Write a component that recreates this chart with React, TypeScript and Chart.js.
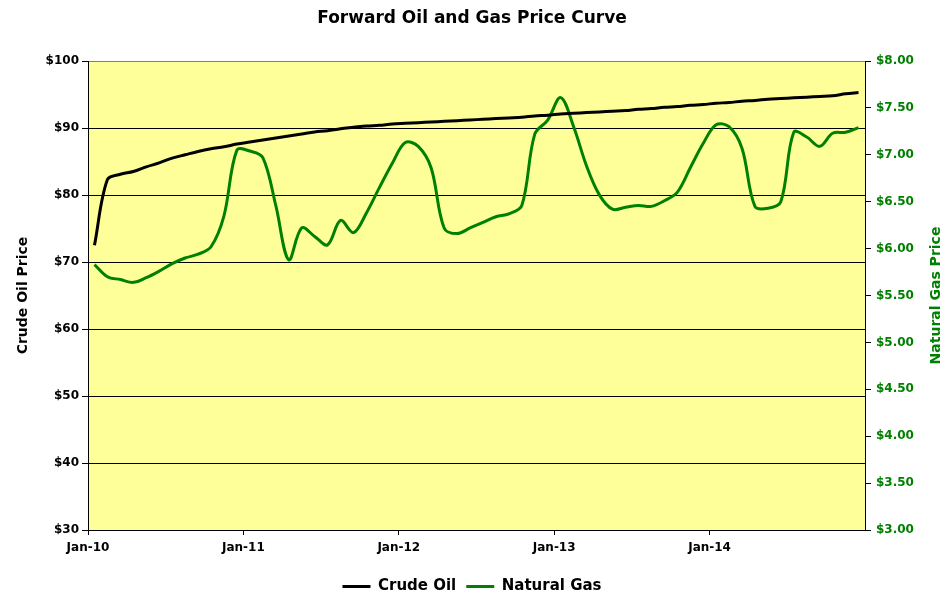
import React, { useEffect, useRef } from "react";
import { Chart, registerables } from "chart.js";

Chart.register(...registerables);

const categories = [
  "Jan-10", "Feb-10", "Mar-10", "Apr-10", "May-10", "Jun-10", "Jul-10", "Aug-10", "Sep-10", "Oct-10", "Nov-10", "Dec-10",
  "Jan-11", "Feb-11", "Mar-11", "Apr-11", "May-11", "Jun-11", "Jul-11", "Aug-11", "Sep-11", "Oct-11", "Nov-11", "Dec-11",
  "Jan-12", "Feb-12", "Mar-12", "Apr-12", "May-12", "Jun-12", "Jul-12", "Aug-12", "Sep-12", "Oct-12", "Nov-12", "Dec-12",
  "Jan-13", "Feb-13", "Mar-13", "Apr-13", "May-13", "Jun-13", "Jul-13", "Aug-13", "Sep-13", "Oct-13", "Nov-13", "Dec-13",
  "Jan-14", "Feb-14", "Mar-14", "Apr-14", "May-14", "Jun-14", "Jul-14", "Aug-14", "Sep-14", "Oct-14", "Nov-14", "Dec-14",
];

const crudeOil = [
  72.5, 82.3, 83.1, 83.5, 84.2, 84.8, 85.5, 86.0, 86.5, 86.9, 87.2, 87.6,
  87.9, 88.2, 88.5, 88.8, 89.1, 89.4, 89.6, 89.9, 90.1, 90.3, 90.4, 90.6,
  90.7, 90.8, 90.9, 91.0, 91.1, 91.2, 91.3, 91.4, 91.5, 91.6, 91.8, 91.9,
  92.1, 92.2, 92.3, 92.4, 92.5, 92.6, 92.8, 92.9, 93.1, 93.2, 93.4, 93.5,
  93.7, 93.8, 94.0, 94.1, 94.3, 94.4, 94.5, 94.6, 94.7, 94.8, 95.1, 95.3,
];

const naturalGas = [
  5.83, 5.70, 5.67, 5.64, 5.69, 5.76, 5.84, 5.90, 5.94, 6.02, 6.35, 7.05,
  7.04, 6.97, 6.46, 5.88, 6.22, 6.13, 6.04, 6.30, 6.17, 6.38, 6.65, 6.91,
  7.13, 7.09, 6.86, 6.22, 6.16, 6.22, 6.28, 6.34, 6.37, 6.46, 7.22, 7.37,
  7.61, 7.30, 6.88, 6.57, 6.42, 6.44, 6.46, 6.45, 6.51, 6.60, 6.86, 7.12,
  7.32, 7.30, 7.07, 6.45, 6.43, 6.50, 7.24, 7.19, 7.09, 7.23, 7.24, 7.29,
];

const oilTicks = { min: 30, max: 100, step: 10 };
const gasTicks = { min: 3, max: 8, step: 0.5 };

const FONT = "'DejaVu Sans', Verdana, sans-serif";
const GREEN = "#008000";
const GAS_TITLE = "Natural Gas Price";

const plotBackground = {
  id: "plotBackground",
  beforeDraw(chart: any) {
    const { ctx, chartArea } = chart;
    if (!chartArea) return;
    ctx.save();
    ctx.fillStyle = "#FFFF99";
    ctx.fillRect(chartArea.left, chartArea.top, chartArea.right - chartArea.left, chartArea.bottom - chartArea.top);
    ctx.restore();
  },
};

// Right axis title, reading bottom-to-top like the reference
const rightAxisTitle = {
  id: "rightAxisTitle",
  afterDraw(chart: any) {
    const { ctx, chartArea } = chart;
    if (!chartArea) return;
    ctx.save();
    ctx.translate(chart.width - 8, (chartArea.top + chartArea.bottom) / 2);
    ctx.rotate(-Math.PI / 2);
    ctx.fillStyle = GREEN;
    ctx.font = `bold 14px ${FONT}`;
    ctx.textAlign = "center";
    ctx.textBaseline = "middle";
    ctx.fillText(GAS_TITLE, 0, 0);
    ctx.restore();
  },
};

export default function App() {
  const canvasRef = useRef<HTMLCanvasElement | null>(null);

  useEffect(() => {
    if (!canvasRef.current) return;
    const chart = new Chart(canvasRef.current, {
      type: "line",
      data: {
        labels: categories,
        datasets: [
          {
            label: "Crude Oil",
            data: crudeOil,
            yAxisID: "yOil",
            borderColor: "#000000",
            backgroundColor: "#000000",
            borderWidth: 3,
            pointRadius: 0,
            pointStyle: "line",
            tension: 0.35,
          },
          {
            label: "Natural Gas",
            data: naturalGas,
            yAxisID: "yGas",
            borderColor: GREEN,
            backgroundColor: GREEN,
            borderWidth: 3,
            pointRadius: 0,
            pointStyle: "line",
            tension: 0.35,
          },
        ],
      },
      options: {
        animation: false,
        responsive: true,
        maintainAspectRatio: false,
        layout: { padding: { top: 0, left: 0, right: 0, bottom: -10 } },
        font: { family: FONT, weight: "bold" },
        plugins: {
          title: {
            display: true,
            text: "Forward Oil and Gas Price Curve",
            color: "#000",
            font: { family: FONT, size: 17, weight: "bold" },
            padding: { top: 8, bottom: 32.6 },
          },
          legend: {
            display: true,
            position: "bottom",
            labels: {
              color: "#000",
              font: { family: FONT, size: 15, weight: "bold" },
              usePointStyle: true,
              pointStyleWidth: 28,
              boxHeight: 15,
              padding: 10,
            },
          },
          tooltip: { enabled: false },
        },
        scales: {
          x: {
            type: "category",
            offset: true,
            grid: {
              offset: true,
              drawOnChartArea: false,
              drawTicks: true,
              tickLength: 5,
              tickColor: (c: any) => (c.index % 12 === 0 ? "#000" : "rgba(0,0,0,0)"),
            },
            border: { color: "#000", width: 1 },
            ticks: {
              autoSkip: false,
              maxRotation: 0,
              minRotation: 0,
              color: "#000",
              font: { family: FONT, size: 12, weight: "bold" },
              padding: 6,
              labelOffset: -6.5,
              callback: (_v: any, i: number) => (categories[i] && categories[i].startsWith("Jan") ? categories[i] : ""),
            },
            afterFit: (scale: any) => {
              const legendH = scale.chart.legend ? scale.chart.legend.height : 0;
              scale.height = scale.chart.height + 10 - 530 - legendH;
            },
          },
          yOil: {
            type: "linear",
            position: "left",
            min: oilTicks.min,
            max: oilTicks.max,
            ticks: {
              stepSize: oilTicks.step,
              color: "#000",
              font: { family: FONT, size: 12, weight: "bold" },
              padding: 3,
              callback: (v: any) => "$" + Number(v).toFixed(0),
            },
            grid: {
              color: (c: any) => (c.tick && c.tick.value === oilTicks.max ? "#808080" : "#000"),
              tickColor: "#000",
              lineWidth: 1,
              tickLength: 6,
            },
            border: { color: "#000", width: 1 },
            title: {
              display: true,
              text: "Crude Oil Price",
              color: "#000",
              font: { family: FONT, size: 14, weight: "bold" },
              padding: { top: 15, bottom: 0 },
            },
            afterFit: (scale: any) => {
              scale.width = 88;
            },
          },
          yGas: {
            type: "linear",
            position: "right",
            min: gasTicks.min,
            max: gasTicks.max,
            ticks: {
              stepSize: gasTicks.step,
              color: GREEN,
              font: { family: FONT, size: 12, weight: "bold" },
              padding: 5,
              callback: (v: any) => "$" + Number(v).toFixed(2),
            },
            grid: {
              drawOnChartArea: false,
              tickColor: "#000",
              tickLength: 6,
            },
            border: { color: "#000", width: 1 },
            title: { display: false },
            afterFit: (scale: any) => {
              scale.width = 79;
            },
          },
        },
      } as any,
      plugins: [plotBackground, rightAxisTitle],
    });
    return () => chart.destroy();
  }, []);

  return (
    <div style={{ position: "fixed", left: 0, top: 0, width: 944, height: 594, background: "#fff" }}>
      <canvas ref={canvasRef} />
    </div>
  );
}
